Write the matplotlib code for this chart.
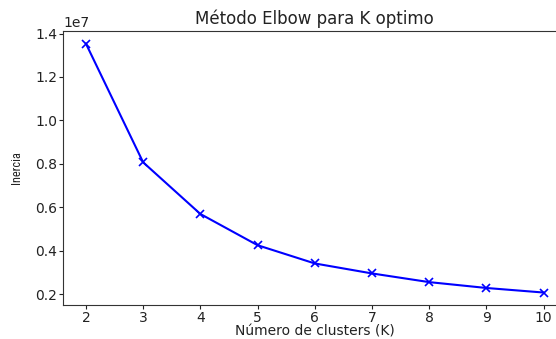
import matplotlib
matplotlib.use("Agg")
import matplotlib.pyplot as plt
from matplotlib import font_manager

# Elbow curve: inertia for each number of clusters
k_values = [2, 3, 4, 5, 6, 7, 8, 9, 10]
inertia = [1.354e7, 0.807e7, 0.569e7, 0.425e7, 0.341e7, 0.295e7, 0.255e7, 0.228e7, 0.207e7]

title_text = "Método Elbow para K optimo"
x_label = "Número de clusters (K)"
y_label = "Inercia"

# pick a narrow face for the vertical label when one is installed
installed = {f.name for f in font_manager.fontManager.ttflist}
narrow_faces = ["Liberation Sans Narrow", "Roboto Condensed", "Open Sans Condensed"]
narrow = next((n for n in narrow_faces if n in installed), None)
if narrow:
    ylab_kw = dict(family=[narrow, "DejaVu Sans"], fontsize=8.8)
else:
    ylab_kw = dict(family=["DejaVu Sans"], fontstretch="condensed", fontsize=6.3)

fig = plt.figure(figsize=(5.56, 3.39), dpi=100)
ax = fig.add_axes([0.1133, 0.1003, 0.9058, 0.808])

ax.plot(k_values, inertia, color="blue", marker="x", markersize=5.5,
        markeredgewidth=1.2, linewidth=1.5)

ax.set_title(title_text, fontsize=12, color="#222222", pad=5)
ax.set_xlabel(x_label, fontsize=10, color="#222222", labelpad=0)
ax.set_ylabel(y_label, color="#222222", labelpad=9, **ylab_kw)
ax.tick_params(labelsize=10, colors="#222222", length=3, pad=1.2)
ax.yaxis.get_offset_text().set_fontsize(10)
for s in ax.spines.values():
    s.set_color("#333333")

fig.savefig("out.png", dpi=100)
